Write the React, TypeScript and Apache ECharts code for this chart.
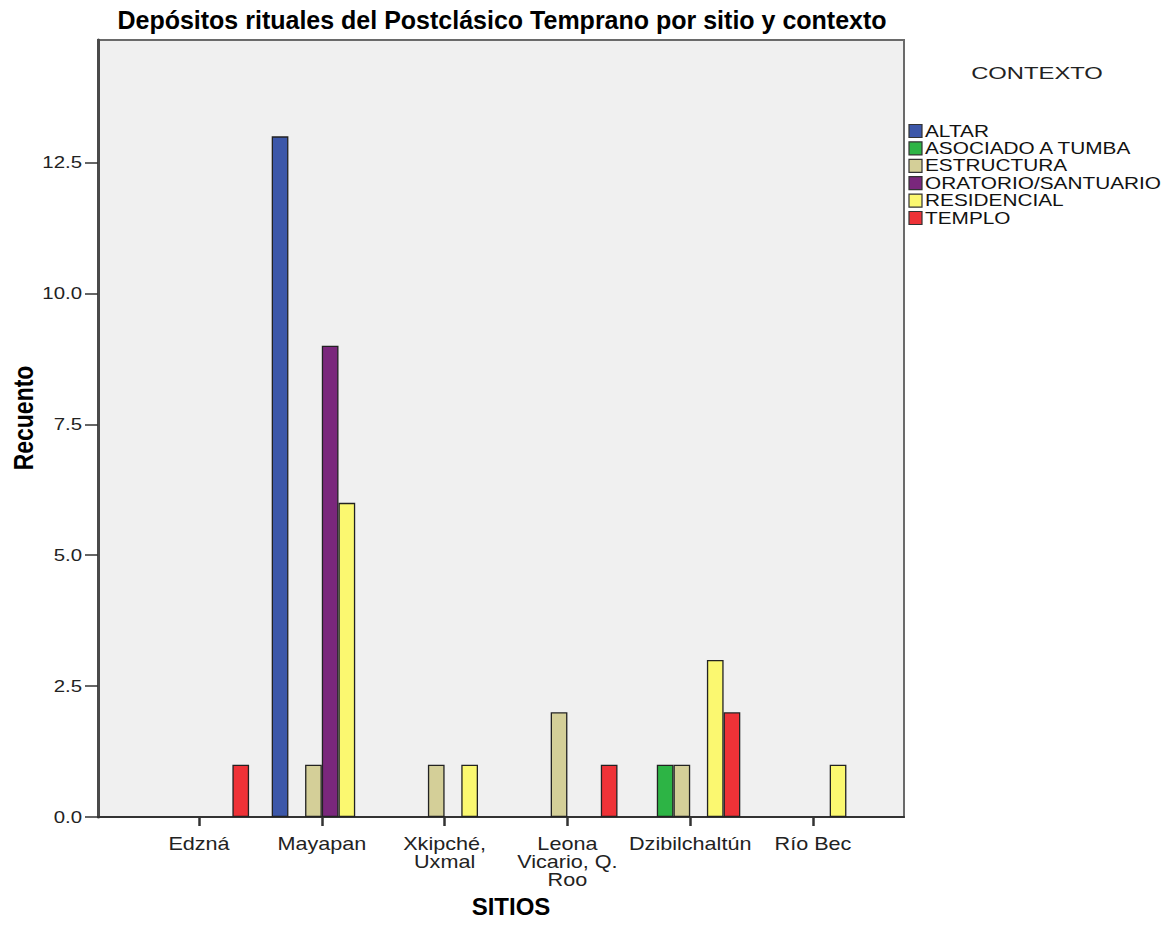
import React, { useEffect, useRef } from "react";
import * as echarts from "echarts";

const sites = ["Edzná", "Mayapan", "Xkipché,\nUxmal", "Leona\nVicario, Q.\nRoo", "Dzibilchaltún", "Río Bec"];
const contexts = ["ALTAR", "ASOCIADO A TUMBA", "ESTRUCTURA", "ORATORIO/SANTUARIO", "RESIDENCIAL", "TEMPLO"];
const altar = [0, 13, 0, 0, 0, 0];
const asociadoATumba = [0, 0, 0, 0, 1, 0];
const estructura = [0, 1, 1, 2, 1, 0];
const oratorioSantuario = [0, 9, 0, 0, 0, 0];
const residencial = [0, 6, 1, 0, 3, 1];
const templo = [1, 0, 0, 1, 2, 0];
const yTicks = [0, 2.5, 5, 7.5, 10, 12.5];
const yMax = 14.84;
const colors = ["#3c57a9", "#2db445", "#d4cf98", "#7a277c", "#fbf870", "#ee3237"];

const FONT = "'Liberation Sans', Arial, sans-serif";

export default function App() {
  const ref = useRef<HTMLDivElement>(null);
  useEffect(() => {
    document.body.style.margin = "0";
    const chart = echarts.init(ref.current!, null, { renderer: "svg" });
    const values = [altar, asociadoATumba, estructura, oratorioSantuario, residencial, templo];
    const option: any = {
      animation: false,
      backgroundColor: "#ffffff",
      textStyle: { fontFamily: FONT },
      grid: [
        { left: 98, top: 40, width: 806, height: 777, show: true, backgroundColor: "#f0f0f0", borderColor: "#6a6a6a", borderWidth: 2 },
        { left: 137.6, top: 40, width: 736.8, height: 777 },
      ],
      xAxis: [
        {
          gridIndex: 0,
          type: "value",
          min: 0,
          max: 1,
          axisLine: { show: true, lineStyle: { color: "#333333", width: 2 } },
          axisTick: { show: false },
          axisLabel: { show: false },
          splitLine: { show: false },
        },
        {
          gridIndex: 1,
          type: "category",
          data: sites,
          axisLine: { show: false },
          axisTick: { show: true, alignWithLabel: true, length: 9, lineStyle: { color: "#333333", width: 2.5 } },
          axisLabel: { show: false },
        },
      ],
      yAxis: [
        {
          gridIndex: 0,
          type: "value",
          min: 0,
          max: yMax,
          axisLine: { show: true, lineStyle: { color: "#4a4a4a", width: 3 } },
          axisTick: { show: true, length: 13, customValues: yTicks, lineStyle: { color: "#333333", width: 1.5 } },
          axisLabel: { show: false },
          splitLine: { show: false },
        },
        { gridIndex: 1, type: "value", min: 0, max: yMax, show: false },
      ],
      series: contexts.map((name, i) => ({
        name,
        type: "bar",
        xAxisIndex: 1,
        yAxisIndex: 1,
        barWidth: 16.7,
        barGap: "0%",
        itemStyle: { color: colors[i], borderColor: "#222222", borderWidth: 1.3 },
        data: values[i].map((v) => (v === 0 ? "-" : v)),
      })),
    };
    chart.setOption(option);

    const gfx: any[] = [
      {
        type: "text",
        x: 502,
        y: 20,
        style: { text: "Depósitos rituales del Postclásico Temprano por sitio y contexto", fontSize: 25, fontWeight: "bold", fill: "#000", textAlign: "center", textVerticalAlign: "middle", fontFamily: FONT },
      },
      {
        type: "text",
        x: 1037,
        y: 73,
        scaleX: 1.4,
        style: { text: "CONTEXTO", fontSize: 17, fill: "#222", textAlign: "center", textVerticalAlign: "middle", fontFamily: FONT },
      },
      {
        type: "text",
        x: 23,
        y: 418,
        rotation: Math.PI / 2,
        scaleY: 1.2,
        style: { text: "Recuento", fontSize: 23, fontWeight: "bold", fill: "#000", textAlign: "center", textVerticalAlign: "middle", fontFamily: FONT },
      },
      {
        type: "text",
        x: 511,
        y: 906,
        style: { text: "SITIOS", fontSize: 24, fontWeight: "bold", fill: "#000", textAlign: "center", textVerticalAlign: "middle", fontFamily: FONT },
      },
    ];
    // legend
    contexts.forEach((name, i) => {
      const cy = 131 + i * 17.4;
      gfx.push({
        type: "rect",
        shape: { x: 909, y: cy - 6.5, width: 13, height: 13 },
        style: { fill: colors[i], stroke: "#333333", lineWidth: 1.2 },
      });
      gfx.push({
        type: "text",
        x: 925,
        y: cy,
        scaleX: 1.3,
        style: { text: name, fontSize: 16, fill: "#111", textAlign: "left", textVerticalAlign: "middle", fontFamily: FONT },
      });
    });
    // y tick labels
    yTicks.forEach((v) => {
      const y = chart.convertToPixel({ yAxisIndex: 0 }, v) as number;
      gfx.push({
        type: "text",
        x: 82,
        y,
        scaleX: 1.2,
        style: { text: v.toFixed(1), fontSize: 17, fill: "#222", textAlign: "right", textVerticalAlign: "middle", fontFamily: FONT },
      });
    });
    // category labels
    sites.forEach((s, i) => {
      const x = chart.convertToPixel({ xAxisIndex: 1 }, i) as number;
      gfx.push({
        type: "text",
        x,
        y: 835,
        scaleX: 1.2,
        style: { text: s, fontSize: 18, lineHeight: 18, fill: "#222", textAlign: "center", textVerticalAlign: "top", fontFamily: FONT },
      });
    });
    chart.setOption({ graphic: gfx });
    return () => chart.dispose();
  }, []);
  return <div ref={ref} style={{ width: 1171, height: 948 }} />;
}
